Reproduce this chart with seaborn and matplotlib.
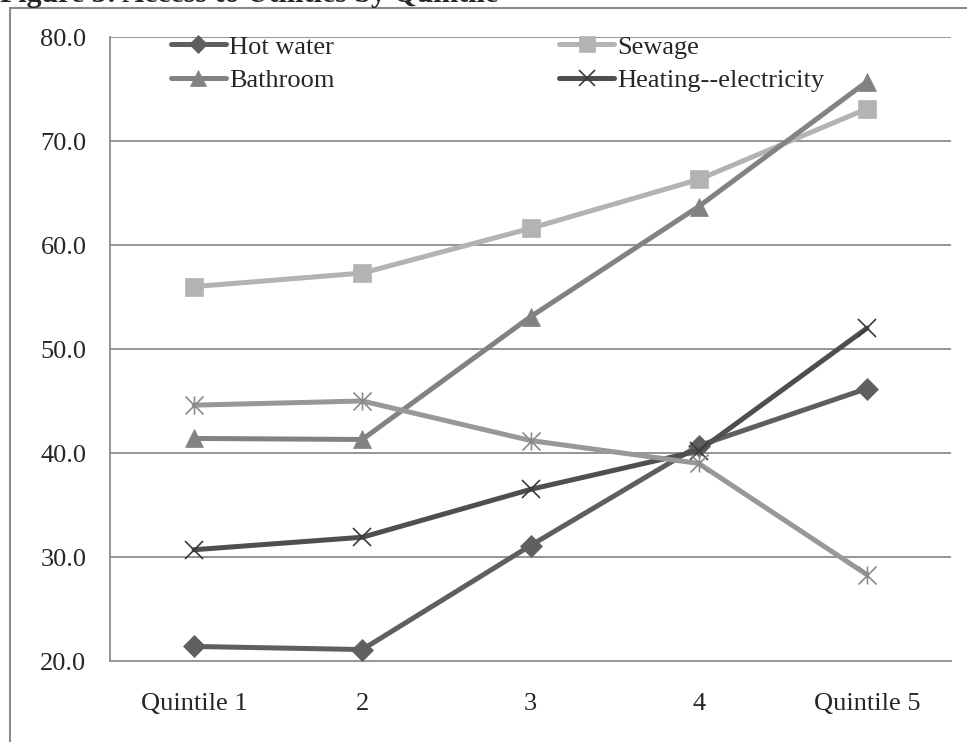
import numpy as np
import pandas as pd
import seaborn as sns
import matplotlib.pyplot as plt
from matplotlib.path import Path
from matplotlib.lines import Line2D
from matplotlib.patches import Rectangle

# Data
quintiles = ['Quintile 1', '2', '3', '4', 'Quintile 5']
hot_water = [21.4, 21.1, 31.1, 40.7, 46.2]
sewage = [56.0, 57.3, 61.6, 66.3, 73.1]
bathroom = [41.4, 41.3, 53.1, 63.7, 75.7]
heating_elec = [30.7, 31.9, 36.5, 40.2, 52.0]
other_series = [44.6, 45.0, 41.2, 39.0, 28.3]  # label hidden in the original legend

sns.set_style('white')
plt.rcParams['font.family'] = ['Liberation Serif', 'DejaVu Serif']

# excel-like asterisk marker: an x with a vertical bar
asterisk = Path([(0, -1), (0, 1), (-1, -1), (1, 1), (-1, 1), (1, -1)],
                [Path.MOVETO, Path.LINETO, Path.MOVETO, Path.LINETO, Path.MOVETO, Path.LINETO])

series = [
    ('Hot water', hot_water, '#5f5f5f', 'D', 11, '#5f5f5f', 0.5),
    ('Sewage', sewage, '#b3b3b3', 's', 13, '#b3b3b3', 0.5),
    ('Bathroom', bathroom, '#828282', '^', 13, '#828282', 0.5),
    ('Heating--electricity', heating_elec, '#4f4f4f', 'x', 13, '#3a3a3a', 1.2),
    ('_other', other_series, '#989898', asterisk, 13, '#8a8a8a', 1.2),
]

df = pd.DataFrame({
    'x': np.tile(np.arange(len(quintiles)), len(series)),
    'value': np.concatenate([s[1] for s in series]),
    'series': np.repeat([s[0] for s in series], len(quintiles)),
})

fig = plt.figure(figsize=(9.67, 7.42), dpi=100)
ax = fig.add_axes([110 / 967, (742 - 661) / 742, (951 - 110) / 967, (661 - 37) / 742])

# gridlines first so the lines sit on top
for yv in range(30, 90, 10):
    ax.axhline(yv, color='#8c8c8c', lw=1.3, zorder=1)

handles = {}
for name, vals, col, mk, ms, mec, mew in series:
    sub = df[df['series'] == name]
    sns.lineplot(data=sub, x='x', y='value', ax=ax, color=col, lw=3.6,
                 marker=mk, markersize=ms, markeredgecolor=mec,
                 markeredgewidth=mew, legend=False, zorder=3)
    handles[name] = Line2D([], [], color=col, lw=3.6, marker=mk, markersize=ms * 0.85,
                           markeredgecolor=mec, markeredgewidth=mew)

ax.set_xlim(-0.5, 4.5)
ax.set_ylim(20, 80)
ax.set_yticks(range(20, 90, 10))
ax.set_yticklabels([f'{v:.1f}' for v in range(20, 90, 10)], fontsize=19)
ax.set_xticks(np.arange(-0.5, 5, 1))
ax.set_xticklabels([])
ax.set_xticks(np.arange(len(quintiles)), minor=True)
ax.set_xticklabels(quintiles, minor=True, fontsize=19)
ax.tick_params(axis='x', which='major', length=7, width=1.3, color='#8c8c8c', direction='out')
ax.tick_params(axis='x', which='minor', length=0, pad=23)
ax.tick_params(axis='y', length=6, width=1.3, color='#8c8c8c', direction='out', pad=11)
ax.set_xlabel('')
ax.set_ylabel('')
for s in ['top', 'right']:
    ax.spines[s].set_visible(False)
for s in ['left', 'bottom']:
    ax.spines[s].set_color('#8c8c8c')
    ax.spines[s].set_linewidth(1.3)
ax.spines['left'].set_zorder(1)

order = ['Hot water', 'Bathroom', 'Sewage', 'Heating--electricity']
ax.legend([handles[k] for k in order], order, ncol=2, frameon=False, fontsize=19,
          loc='upper left', bbox_to_anchor=(50 / 841, 1.02), handlelength=2.1,
          handletextpad=0.12, columnspacing=8.5, labelspacing=0.38, borderaxespad=0)

# outer chart border (only left and top edges fall inside the picture)
fig.patches.append(Rectangle((10 / 967, -0.05), 1.0, 1 - 8 / 742 + 0.05, transform=fig.transFigure,
                             fill=False, edgecolor='#8c8c8c', lw=1.5))
fig.text(0.0, 1 - 2 / 742, 'Figure 3: Access to Utilities by Quintile', fontsize=21.5,
         fontweight='bold', va='baseline', ha='left')

fig.savefig('out.png', dpi=100)
